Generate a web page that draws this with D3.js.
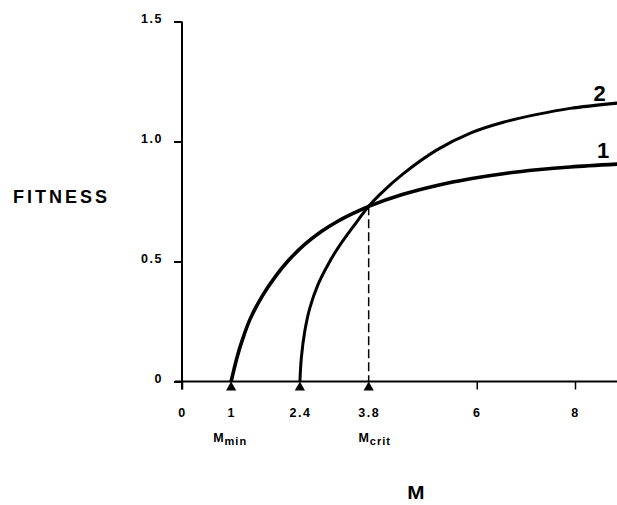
<!DOCTYPE html>
<html>
<head>
<meta charset="utf-8">
<script src="https://cdn.jsdelivr.net/npm/d3@7/dist/d3.min.js"></script>
<style>
  html, body { margin: 0; padding: 0; background: #fff; }
  svg { display: block; font-family: "Liberation Sans", Arial, sans-serif; }
</style>
</head>
<body>
<svg id="chart" width="617" height="505"></svg>
<script>
// ---- data ----
const curve1M = [1, 1.12, 1.22, 1.39, 1.63, 1.90, 2.17, 2.51, 2.85, 3.19, 3.53, 3.8, 4.5, 5.19, 5.87, 6.54, 7.23, 7.9, 8.86];
const curve1F = [0, 0.10, 0.168, 0.262, 0.355, 0.437, 0.505, 0.573, 0.627, 0.67, 0.705, 0.73, 0.78, 0.817, 0.845, 0.866, 0.882, 0.894, 0.906];
const curve2M = [2.4, 2.43, 2.5, 2.6, 2.77, 2.98, 3.18, 3.52, 3.8, 4.03, 4.5, 5.19, 5.87, 6.54, 7.23, 7.9, 8.86];
const curve2F = [0, 0.10, 0.21, 0.305, 0.405, 0.49, 0.558, 0.655, 0.73, 0.78, 0.865, 0.965, 1.035, 1.08, 1.113, 1.138, 1.16];
const curveNames = ["1", "2"];
const curveLabelM = [8.57, 8.5];
const curveLabelF = [0.93, 1.17];
const xTickValues = [0, 6, 8];
const markerValues = [1, 2.4, 3.8];
const markerNames = ["min", "", "crit"];
const yTickValues = [0, 0.5, 1.0, 1.5];
const critM = 3.8;
const critF = 0.73;
const xMax = 8.86;

// ---- scales ----
const svg = d3.select("#chart");
const x = d3.scaleLinear().domain([0, 8]).range([182, 575]);
const y = d3.scaleLinear().domain([0, 1.5]).range([381.5, 21.5]);

// ---- y axis ----
const yAxis = d3.axisLeft(y)
  .tickValues(yTickValues)
  .tickSize(8)
  .tickFormat(d => d === 0 ? "0" : d3.format(".1f")(d));
const gy = svg.append("g").attr("transform", `translate(${x(0)},0)`).call(yAxis);
gy.select(".domain").remove();
gy.append("line").attr("x1", 0).attr("x2", 0).attr("y1", y(1.5)).attr("y2", y(0) + 8)
  .attr("stroke", "#000").attr("stroke-width", 2);
gy.selectAll(".tick line").attr("stroke", "#000").attr("stroke-width", 2);
gy.selectAll(".tick text")
  .attr("x", -19).attr("y", -3.5).attr("dy", "0.35em")
  .attr("font-size", 12.5).attr("font-weight", "bold").attr("fill", "#000")
  .style("letter-spacing", "1.5px");

// ---- x axis ----
const xAxis = d3.axisBottom(x)
  .tickValues(xTickValues.concat(markerValues))
  .tickSize(8)
  .tickFormat(d => String(d));
const gx = svg.append("g").attr("transform", `translate(0,${y(0)})`).call(xAxis);
gx.select(".domain").remove();
gx.append("line").attr("x1", x(0) - 7).attr("x2", x(xMax)).attr("y1", 0).attr("y2", 0)
  .attr("stroke", "#000").attr("stroke-width", 2);
gx.selectAll(".tick line")
  .attr("stroke", "#000").attr("stroke-width", 1.5)
  .attr("display", d => markerValues.includes(d) ? "none" : null);
gx.selectAll(".tick text")
  .attr("y", 35.5).attr("dy", 0)
  .attr("font-size", 12.5).attr("font-weight", "bold").attr("fill", "#000")
  .style("letter-spacing", "1.5px");

// markers (triangles)
const tri = d3.symbol().type(d3.symbolTriangle).size(45);
svg.append("g").selectAll("path").data(markerValues).join("path")
  .attr("d", tri)
  .attr("transform", d => `translate(${x(d)},${y(0) + 6})`)
  .attr("fill", "#000");

// M_min, M_crit labels
const subLabels = svg.append("g").selectAll("text")
  .data(markerValues.map((v, i) => ({ v, s: markerNames[i] })).filter(d => d.s))
  .join("text")
  .attr("x", d => x(d.v) + (d.s === "crit" ? 6 : -1))
  .attr("y", 442)
  .attr("text-anchor", "middle")
  .attr("font-weight", "bold").attr("font-size", 12.5).attr("fill", "#000")
  .style("letter-spacing", "1px");
subLabels.append("tspan").text("M");
subLabels.append("tspan").attr("dy", 3).attr("font-size", 11).text(d => d.s);

// dashed critical line
svg.append("line")
  .attr("x1", x(critM)).attr("x2", x(critM))
  .attr("y1", y(critF)).attr("y2", y(0))
  .attr("stroke", "#000").attr("stroke-width", 1.5)
  .attr("stroke-dasharray", "9,4");

// ---- curves ----
const line = d3.line().x(d => x(d[0])).y(d => y(d[1])).curve(d3.curveCatmullRom.alpha(0.5));
const c1 = curve1M.map((m, i) => [m, curve1F[i]]);
const c2 = curve2M.map((m, i) => [m, curve2F[i]]);
svg.append("path").attr("d", line(c1)).attr("fill", "none").attr("stroke", "#000").attr("stroke-width", 3.6);
svg.append("path").attr("d", line(c2)).attr("fill", "none").attr("stroke", "#000").attr("stroke-width", 3);

// curve labels
svg.append("g").selectAll("text").data(curveNames).join("text")
  .attr("x", (d, i) => x(curveLabelM[i]))
  .attr("y", (d, i) => y(curveLabelF[i]))
  .attr("text-anchor", "middle")
  .attr("font-weight", "bold").attr("font-size", 22).attr("fill", "#000")
  .text(d => d);

// axis titles
svg.append("text").attr("x", 13).attr("y", 203)
  .attr("font-weight", "bold").attr("font-size", 18).attr("fill", "#000")
  .style("letter-spacing", "3px").text("FITNESS");
svg.append("text").attr("x", 416).attr("y", 499).attr("text-anchor", "middle")
  .attr("font-weight", "bold").attr("font-size", 18).attr("fill", "#000")
  .attr("transform", "translate(416,499) scale(1.15,1) translate(-416,-499)")
  .text("M");
</script>
</body>
</html>
